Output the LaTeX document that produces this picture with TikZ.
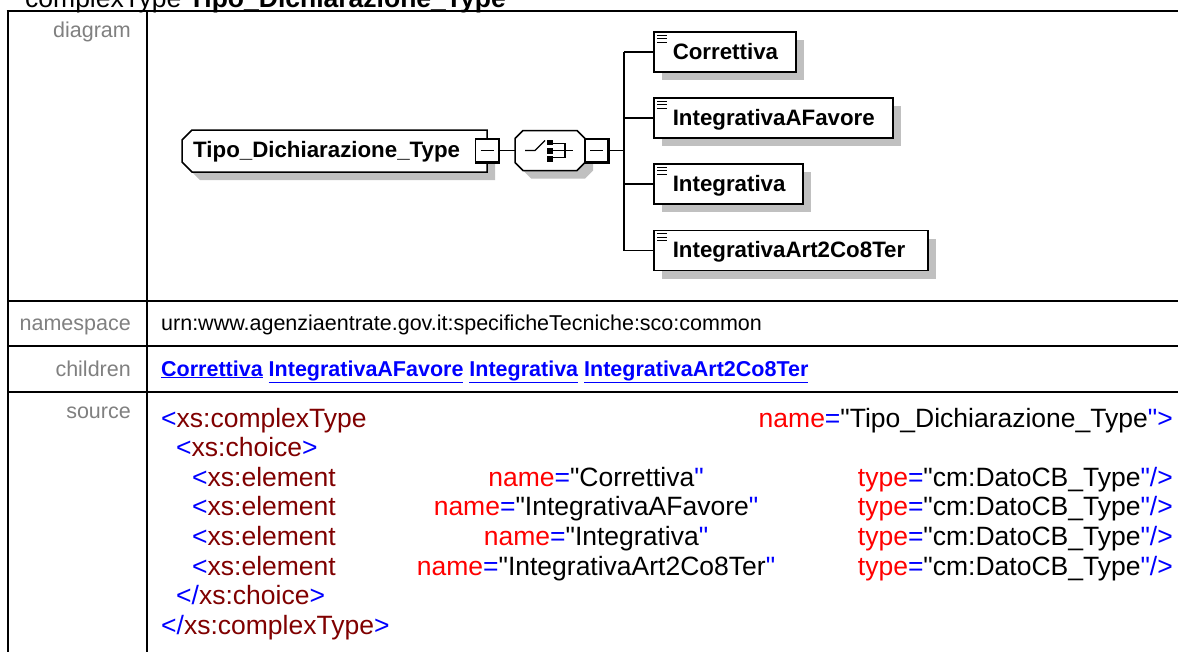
\documentclass[tikz,border=0pt]{standalone}
\usepackage{fontspec}
\setmainfont{Liberation Sans}
\usetikzlibrary{shadows}
\definecolor{lblgray}{RGB}{128,128,128}
\definecolor{shgray}{RGB}{192,192,192}
\definecolor{xmlblue}{RGB}{0,0,255}
\definecolor{xmlmaroon}{RGB}{128,0,0}
\definecolor{xmlred}{RGB}{255,0,0}
\newcommand\cBl[1]{\textcolor{xmlblue}{#1}}
\newcommand\cMr[1]{\textcolor{xmlmaroon}{#1}}
\newcommand\cRd[1]{\textcolor{xmlred}{#1}}
\newcommand\myBody{\fontsize{21.5}{25}\selectfont}
\newcommand\mySrc{\fontsize{26.5}{30}\selectfont}
\newcommand\myTitle{\fontsize{26.5}{30}\selectfont}
\newcommand\myDiag{\fontsize{22.3}{26}\selectfont\bfseries}
\newcommand\sq{\XeTeXglyph\XeTeXcharglyph 34\relax}
\newcommand\attr[2]{\cRd{#1}\cBl{=}\sq#2\cBl{\sq}}
\tikzset{
  tbl/.style={line width=2pt, black},
  lbl/.style={anchor=base east, text=lblgray, font=\myBody, inner sep=0pt},
  cell/.style={anchor=base west, font=\myBody, inner sep=0pt},
  src/.style={font=\mySrc, inner sep=0pt},
  conn/.style={line width=1.3pt},
  elem/.style={draw, line width=1.5pt, fill=white, rectangle, anchor=west, inner sep=0pt,
    minimum height=40pt, text height=17pt, text depth=3pt, font=\myDiag,
    general shadow={fill=shgray, shadow xshift=8pt, shadow yshift=-8pt}},
  minusbox/.style={draw, line width=1.2pt, fill=white, rectangle, minimum width=23pt,
    minimum height=23pt, inner sep=0pt},
  holder/.style={rectangle, inner sep=0pt, draw=none},
  icon/.style={line width=1.4pt},
}
\begin{document}
\begin{tikzpicture}[x=1pt,y=-1pt]
\useasboundingbox (0,0) rectangle (1178,651);
\clip (0,0) rectangle (1178,651);
\fill[white] (0,0) rectangle (1178,651);

% title (cut off at top)
\node[anchor=base west, font=\myTitle, inner sep=0pt] (title) at (25,7)
  {complexType \textbf{Tipo\_Dichiarazione\_Type}};

% table grid
\draw[tbl] (6.5,11) -- (1200,11);
\draw[tbl] (7.5,301) -- (1200,301);
\draw[tbl] (7.5,346) -- (1200,346);
\draw[tbl] (7.5,392) -- (1200,392);
\draw[tbl] (7.5,10) -- (7.5,700);
\draw[tbl] (147,10) -- (147,700);

% labels
\node[lbl] (ldiag) at (131,37.5) {diagram};
\node[lbl] (lns) at (131,330) {namespace};
\node[lbl] (lch) at (131,376) {children};
\node[lbl] (lsrc) at (131,418.5) {source};

% namespace and children
\node[cell] (ns) at (161,330) {urn:www.agenziaentrate.gov.it:specificheTecniche:sco:common};
\node[cell, text=xmlblue, font=\myBody\bfseries] (ch) at (161,376)
  {\underline{Correttiva} \underline{IntegrativaAFavore} \underline{Integrativa} \underline{IntegrativaArt2Co8Ter}};

% ---------- diagram ----------
% root complex type box
\fill[shgray] (200,138) -- (495,138) -- (495,180) -- (200,180) -- (190,170) -- (190,148) -- cycle;
\draw[line width=1.5pt, fill=white] (192,130) -- (487,130) -- (487,172) -- (192,172) -- (182,162) -- (182,140) -- cycle;
\node[holder, minimum width=305pt, minimum height=42pt] (root) at (334.5,151) {};
\node[anchor=base west, font=\myDiag, inner sep=0pt] (rootname) at (193,157.5) {Tipo\_Dichiarazione\_Type};
\node[minusbox] (rootminus) at (487,150.5) {};
\draw[line width=2.4pt] (rootminus.north east) -- (rootminus.south east) -- (rootminus.south west);
\draw[line width=1.3pt] ([xshift=-6.5pt]rootminus.center) -- ([xshift=6.5pt]rootminus.center);

% choice compositor
\node[holder, minimum width=70pt, minimum height=40pt] (choice) at (550,150.5) {};
\begin{scope}[shift={(558,158.5)}]
  \fill[shgray] (-27,-20) -- (27,-20) -- (35,-12) -- (35,12) -- (27,20) -- (-27,20) -- (-35,12) -- (-35,-12) -- cycle;
\end{scope}
\begin{scope}[shift={(550,150.5)}]
  \draw[line width=1.5pt, fill=white] (-27,-20) -- (27,-20) -- (35,-12) -- (35,12) -- (27,20) -- (-27,20) -- (-35,12) -- (-35,-12) -- cycle;
  \draw[line width=1.3pt] (-25,0) -- (-15,0) -- (-5,-10);
  \fill (-3,-11) rectangle (3,-5.5);
  \fill (-3,-3) rectangle (3,3);
  \fill (-3,5.5) rectangle (3,11);
  \draw[line width=1.3pt] (3,-7) -- (15,-7) -- (15,7) -- (3,7);
  \draw[line width=1.3pt] (3,0) -- (23,0);
\end{scope}
\node[minusbox] (chminus) at (596.5,150.5) {};
\draw[line width=2.4pt] (chminus.north east) -- (chminus.south east) -- (chminus.south west);
\draw[line width=1.3pt] ([xshift=-6.5pt]chminus.center) -- ([xshift=6.5pt]chminus.center);

\draw[conn] (rootminus.east) -- (choice.west);

% elements
\node[elem] (e1) at (653,52) {\makebox[142pt][l]{\hspace{19pt}Correttiva}};
\node[elem] (e2) at (653,118) {\makebox[239pt][l]{\hspace{19pt}IntegrativaAFavore}};
\node[elem] (e3) at (653,184) {\makebox[149pt][l]{\hspace{19pt}Integrativa}};
\node[elem] (e4) at (653,250.5) {\makebox[274pt][l]{\hspace{19pt}IntegrativaArt2Co8Ter}};
\foreach \n in {e1,e2,e3,e4}{
  \foreach \d in {4,7.5,11}
    \draw[icon] ([shift={(4,\d)}]\n.north west) -- ++(10,0);
}

% connectors to elements
\coordinate (bus) at (624,150.5);
\draw[conn] (chminus.east) -- (bus);
\draw[conn] (bus |- e1.west) -- (bus |- e4.west);
\foreach \n in {e1,e2,e3,e4}
  \draw[conn] (bus |- \n.west) -- (\n.west);

% ---------- source ----------
\node[src, anchor=base west] (s0a) at (161,427) {\cBl{<}\cMr{xs:complexType}};
\node[src, anchor=base east] (s0b) at (1173,427) {\attr{name}{Tipo\_Dichiarazione\_Type}\cBl{>}};
\node[src, anchor=base west] (s1) at (176,456.6) {\cBl{<}\cMr{xs:choice}\cBl{>}};
\node[src, anchor=base west] (s2a) at (192,486.2) {\cBl{<}\cMr{xs:element}};
\node[src, anchor=base] (s2b) at (596,486.2) {\attr{name}{Correttiva}};
\node[src, anchor=base east] (s2c) at (1173,486.2) {\attr{type}{cm:DatoCB\_Type}\cBl{/>}};
\node[src, anchor=base west] (s3a) at (192,515.8) {\cBl{<}\cMr{xs:element}};
\node[src, anchor=base] (s3b) at (596,515.8) {\attr{name}{IntegrativaAFavore}};
\node[src, anchor=base east] (s3c) at (1173,515.8) {\attr{type}{cm:DatoCB\_Type}\cBl{/>}};
\node[src, anchor=base west] (s4a) at (192,545.4) {\cBl{<}\cMr{xs:element}};
\node[src, anchor=base] (s4b) at (596,545.4) {\attr{name}{Integrativa}};
\node[src, anchor=base east] (s4c) at (1173,545.4) {\attr{type}{cm:DatoCB\_Type}\cBl{/>}};
\node[src, anchor=base west] (s5a) at (192,575) {\cBl{<}\cMr{xs:element}};
\node[src, anchor=base] (s5b) at (596,575) {\attr{name}{IntegrativaArt2Co8Ter}};
\node[src, anchor=base east] (s5c) at (1173,575) {\attr{type}{cm:DatoCB\_Type}\cBl{/>}};
\node[src, anchor=base west] (s6) at (176,604.6) {\cBl{</}\cMr{xs:choice}\cBl{>}};
\node[src, anchor=base west] (s7) at (161,634.2) {\cBl{</}\cMr{xs:complexType}\cBl{>}};
\end{tikzpicture}
\end{document}
